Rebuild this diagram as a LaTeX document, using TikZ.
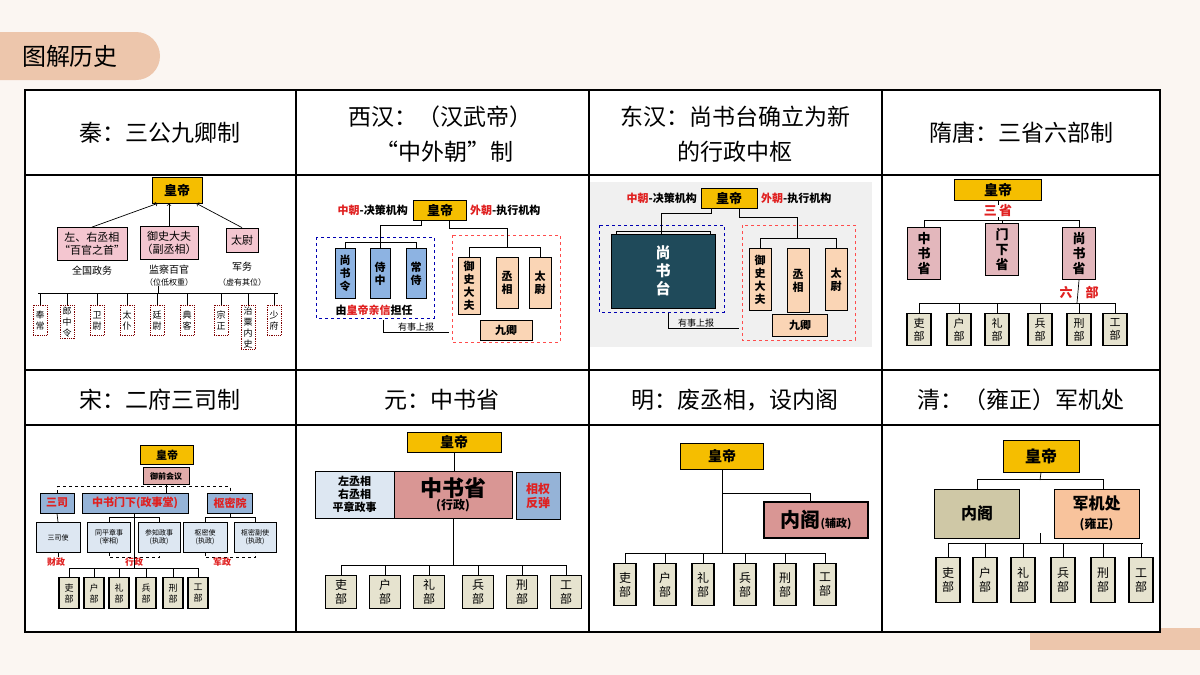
\documentclass[tikz,border=0pt]{standalone}
\usepackage{fontspec}
\setmainfont{Noto Sans CJK SC}
\usetikzlibrary{positioning}
\definecolor{bgpage}{HTML}{FBF6F2}
\definecolor{peach}{HTML}{EDC6AC}
\definecolor{empY}{HTML}{F5BE00}
\definecolor{qinPink}{HTML}{F4C6D0}
\definecolor{hanBlue}{HTML}{8DB3E2}
\definecolor{hanTan}{HTML}{FAD5B5}
\definecolor{deptG}{HTML}{E6E3CF}
\definecolor{tangPink}{HTML}{E3B7BC}
\definecolor{tealB}{HTML}{1F4A5A}
\definecolor{songBlue}{HTML}{95B3D7}
\definecolor{songLight}{HTML}{DDE7F2}
\definecolor{yuanPink}{HTML}{D99694}
\definecolor{qingOlive}{HTML}{CFC8A6}
\definecolor{qingTan}{HTML}{F8C39C}
\definecolor{redT}{HTML}{E02020}
\newcommand{\fs}[1]{\fontsize{#1}{\fpeval{round(1.18*#1)}}\selectfont}
\tikzset{
  box/.style={draw, inner sep=1pt, align=center, line width=0.8pt},
  emp/.style={box, fill=empY, font=\fs{13}\bfseries},
  dept/.style={box, fill=deptG, line width=1.3pt, font=\fs{11}, anchor=north},
  lbl/.style={inner sep=0pt, align=center},
  title/.style={lbl, font=\fs{23}},
  link/.style={line width=0.7pt},
}
\begin{document}
\begin{tikzpicture}[x=1pt, y=-1pt]
	\useasboundingbox (0,0) rectangle (1200,675);
	\fill[bgpage] (0,0) rectangle (1200,675);
	% header
	\fill[peach, rounded corners=24pt] (-40,32) rectangle (160,80);
	\node[lbl, font=\fs{24}] (head) at (70,56) {图解历史};
	\fill[peach] (1030,628) rectangle (1200,650);
	% table
	\fill[white] (25,90) rectangle (1160,632);
	\draw[line width=1.2pt] (25,90) rectangle (1160,632);
	\foreach \y in {175,370,425} \draw[line width=1.2pt] (25,\y) -- (1160,\y);
	\foreach \x in {296,589,882} \draw[line width=1.2pt] (\x,90) -- (\x,632);
	% titles
	\node[title] (t1) at (160,133) {秦：三公九卿制};
	\node[title] (t2) at (440,117) {西汉：（汉武帝）};
	\node[title] (t2b) at (444,152) {“中外朝”制};
	\node[title] (t3) at (735,117) {东汉：尚书台确立为新};
	\node[title] (t3b) at (735,152) {的行政中枢};
	\node[title] (t4) at (1021,133) {隋唐：三省六部制};
	\node[title] (t5) at (160,400) {宋：二府三司制};
	\node[title] (t6) at (442,400) {元：中书省};
	\node[title] (t7) at (735,400) {明：废丞相，设内阁};
	\node[title] (t8) at (1021,400) {清：（雍正）军机处};

	% ---- Qin
	\node[emp, minimum width=50, minimum height=26] (qEmp) at (177,190) {皇帝};
	\node[box, fill=qinPink, minimum width=70, minimum height=33, font=\fs{11}] (qZx) at (92,244) {左、右丞相\\“百官之首”};
	\node[box, fill=qinPink, minimum width=58, minimum height=33, font=\fs{11}] (qYs) at (169,243) {御史大夫\\（副丞相）};
	\node[box, fill=qinPink, minimum width=32, minimum height=24, font=\fs{11}] (qTw) at (242,240) {太尉};
	\draw[link, ->] (qZx.north) -- ([xshift=6]qEmp.south west);
	\draw[link, ->] (qYs.north) -- (qYs.north |- qEmp.south);
	\draw[link, ->] (qTw.north) -- ([xshift=-6]qEmp.south east);
	\node[lbl, font=\fs{10}] (qL1) at (92,271) {全国政务};
	\node[lbl, font=\fs{10}] (qL2) at (169,270) {监察百官};
	\node[lbl, font=\fs{8}] (qL2b) at (169,282) {（位低权重）};
	\node[lbl, font=\fs{10}] (qL3) at (242,267) {军务};
	\node[lbl, font=\fs{8}] (qL3b) at (242,282) {（虚有其位）};
	\draw[link] (38,293) -- (278,293);
	\draw[link] (qL2b.south -| 158,0) -- (158,293);
	\foreach \x/\t [count=\i] in {40/{奉\\常}, 67/{郎\\中\\令}, 97/{卫\\尉}, 127/{太\\仆}, 157/{廷\\尉}, 187/{典\\客}, 221/{宗\\正}, 248/{治\\粟\\内\\史}, 274/{少\\府}} {
		\node[box, draw=red!50!black, densely dotted, anchor=north, minimum width=14, minimum height=30, inner sep=1.5pt, font=\fs{9}] (qj\i) at (\x,305) {\t};
		\draw[link] (\x,293) -- (qj\i.north);
	}

	% ---- Western Han
	\node[emp, minimum width=53, minimum height=20] (wEmp) at (440,210) {皇帝};
	\node[lbl, anchor=east, font=\fs{11}\bfseries] (wZc) at (408,210) {\textcolor{redT}{中朝}-决策机构};
	\node[lbl, anchor=west, font=\fs{11}\bfseries] (wWc) at (470,210) {\textcolor{redT}{外朝}-执行机构};
	\draw[blue!70!black, dashed, line width=0.9pt] (316,237) rectangle (434,318);
	\draw[red!70, dashed, line width=0.9pt] (452,235) rectangle (560,342);
	\foreach \x/\t [count=\i] in {345/{尚\\书\\令}, 380/{侍\\中}, 416/{常\\侍}}
		\node[box, fill=hanBlue, anchor=north, minimum width=20, minimum height=50, font=\fs{11}\bfseries] (wn\i) at (\x,248) {\t};
	\draw[link] ([xshift=-19]wEmp.south) -- ++(0,5) -| (wn2.north);
	\draw[link] (wn1.north) -- ++(0,-6) -| (wn3.north);
	\node[lbl, font=\fs{11}\bfseries] (wQx) at (374,310) {由\textcolor{redT}{皇帝亲信}担任};
	\foreach \x/\t/\h [count=\i] in {469/{御\\史\\大\\夫}/57, 507/{丞\\相}/51, 540/{太\\尉}/51}
		\node[box, fill=hanTan, anchor=north, minimum width=22, minimum height=\h, font=\fs{11}\bfseries] (ww\i) at (\x,257) {\t};
	\draw[link] ([xshift=9]wEmp.south) -- ++(0,8) -| (ww2.north |- 0,247);
	\draw[link] (ww1.north) -- ++(0,-10) -| (ww3.north);
	\node[box, fill=hanTan, minimum width=52, minimum height=20, font=\fs{11}\bfseries] (wJq) at (506,330) {九卿};
	\coordinate (wBao) at (449,332);
	\draw[link] (383,320) |- (wBao);
	\node[lbl, font=\fs{9}, anchor=south] (wBaoT) at (416,331) {有事上报};

	% ---- Eastern Han
	\fill[gray!12] (590,182) rectangle (872,347);
	\node[emp, minimum width=56, minimum height=20] (eEmp) at (729,198) {皇帝};
	\node[lbl, anchor=east, font=\fs{11}\bfseries] (eZc) at (697,198) {\textcolor{redT}{中朝}-决策机构};
	\node[lbl, anchor=west, font=\fs{11}\bfseries] (eWc) at (761,198) {\textcolor{redT}{外朝}-执行机构};
	\draw[blue!70!black, dashed, line width=0.9pt] (599,225) rectangle (724,312);
	\draw[red!70, dashed, line width=0.9pt] (742,225) rectangle (855,340);
	\draw[link] (616,234) -- (616,231) -- (710,231) -- (710,234);
	\node[box, fill=tealB, draw=black, text=white, minimum width=104, minimum height=74, font=\fs{15}\bfseries] (eSst) at (663,271) {尚\\书\\台};
	\draw[link] ([xshift=-18]eEmp.south) -- ++(0,5) -| (eSst.north -| 661,0);
	\foreach \x/\t/\h [count=\i] in {760/{御\\史\\大\\夫}/62, 798/{丞\\相}/64, 836/{太\\尉}/62}
		\node[box, fill=hanTan, anchor=north, minimum width=22, minimum height=\h, font=\fs{11}\bfseries] (ew\i) at (\x,248) {\t};
	\draw[link] ([xshift=10]eEmp.south) -- ++(0,9) -| (797,238);
	\draw[link] (ew1.north) -- ++(0,-10) -| (ew3.north);
	\node[box, fill=hanTan, minimum width=55, minimum height=22, font=\fs{11}\bfseries] (eJq) at (800,325) {九卿};
	\coordinate (eBao) at (739,328);
	\draw[link] (668,313) |- (eBao);
	\node[lbl, font=\fs{9}, anchor=south] (eBaoT) at (696,327) {有事上报};

	% ---- Sui Tang
	\node[emp, minimum width=87, minimum height=21, font=\fs{14}\bfseries] (tEmp) at (998,190) {皇帝};
	\node[lbl, font=\fs{13}\bfseries, text=redT] (tSs) at (998,211) {三\,省};
	\draw[link] (tEmp.south) -- (tSs.north);
	\draw[link] (tSs.south) -- (998,220);
	\foreach \x/\y/\t [count=\i] in {924/227/{中\\书\\省}, 1002/223/{门\\下\\省}, 1079/227/{尚\\书\\省}}
		\node[box, fill=tangPink, anchor=north, minimum width=33, minimum height=52, line width=1.2pt, font=\fs{13}\bfseries] (ts\i) at (\x,\y) {\t};
	\draw[link] (ts1.north) -- ++(0,-7) -| (ts3.north);
	\draw[link] (ts2.north) -- ++(0,-3);
	\node[lbl, font=\fs{13}\bfseries, text=redT] (tLb) at (1079,292) {六\quad 部};
	\draw[link] (ts3.south) -- (1077,303);
	\draw[link] (919,303) -- (1115,303);
	\foreach \x [count=\i] in {919,959,997,1040,1079,1115} {
		\node[dept, minimum width=24, minimum height=32] (td\i) at (\x,313) {};
		\draw[link] (\x,303) -- (td\i.north);
	}
	\foreach \i/\t in {1/吏,2/户,3/礼,4/兵,5/刑,6/工} \node[lbl, font=\fs{11}] at (td\i) {\t\\部};

	% ---- Song
	\node[emp, minimum width=53, minimum height=19, font=\fs{11}\bfseries] (sEmp) at (167,455) {皇帝};
	\node[box, fill=yuanPink!80, minimum width=46, minimum height=17, font=\fs{8}\bfseries] (sYq) at (166,476) {御前会议};
	\node[box, fill=songBlue, minimum width=34, minimum height=20, font=\fs{11}\bfseries, text=redT] (sSs) at (57,503) {三司};
	\node[box, fill=songBlue, minimum width=106, minimum height=20, font=\fs{11}\bfseries, text=redT] (sZs) at (135,503) {中书门下(政事堂)};
	\node[box, fill=songBlue, minimum width=45, minimum height=20, font=\fs{11}\bfseries, text=redT] (sSm) at (230,503) {枢密院};
	\draw[link, dashed] (sSs.north) -- ++(0,-6) -| (sSm.north);
	\draw[link] (sYq.south) -- (sZs.north -| sYq.south);
	\foreach \x/\t/\w [count=\i] in {58/{三司使}/44, 109/{同平章事\\(宰相)}/43, 159/{参知政事\\(执政)}/42, 205/{枢密使\\(执政)}/44, 255/{枢密副使\\(执政)}/42}
		\node[box, fill=songLight, anchor=north, minimum width=\w, minimum height=30, font=\fs{7}] (sb\i) at (\x,522) {\t};
	\draw[link] (sSs.south) -- (sb1.north);
	\draw[link] (sb2.north) -- ++(0,-5) -| (sb3.north);
	\draw[link] (sb4.north) -- ++(0,-5) -| (sb5.north);
	\draw[link] (sSm.south) -- (230,517);
	\draw[link, dashed] (sb2.south) -- ++(0,5) -| (sb3.south);
	\draw[link, dashed] (sb4.south) -- ++(0,5) -| (sb5.south);
	\draw[link] (sb1.south) -- ++(0,4);
	\node[lbl, font=\fs{9}\bfseries, text=redT] (sCz) at (56,562) {财政};
	\node[lbl, font=\fs{9}\bfseries, text=redT] (sXz) at (134,562) {行政};
	\node[lbl, font=\fs{9}\bfseries, text=redT] (sJz) at (222,562) {军政};
	\draw[link] (134,513) -- (134,568);
	\draw[link] (69,568) -- (198,568);
	\foreach \x [count=\i] in {69,94,119,146,173,198} {
		\node[dept, minimum width=20, minimum height=31, font=\fs{9}] (sd\i) at (\x,577) {};
		\draw[link] (\x,568) -- (sd\i.north);
	}
	\foreach \i/\t in {1/吏,2/户,3/礼,4/兵,5/刑,6/工} \node[lbl, font=\fs{9}] at (sd\i) {\t\\部};

	% ---- Yuan
	\node[emp, minimum width=94, minimum height=20, font=\fs{14}\bfseries] (yEmp) at (454,442) {皇帝};
	\node[box, fill=songLight, minimum width=79, minimum height=47, font=\fs{11}\bfseries] (yZx) at (354.5,494.5) {左丞相\\右丞相\\平章政事};
	\node[box, fill=yuanPink, minimum width=118, minimum height=47, font=\fs{11}\bfseries] (yZs) at (453,494.5) {\fs{22}中书省\\\fs{12}(行政)};
	\node[box, fill=songBlue, minimum width=44, minimum height=47, font=\fs{12}\bfseries, text=redT] (yXq) at (538,496) {相权\\反弹};
	\draw[link] (yEmp.south) -- (yZs.north -| yEmp.south);
	\draw[link] (yZs.south) -- (453,565);
	\draw[link] (341,565) -- (566,565);
	\foreach \x [count=\i] in {341,385,429,478,522,566} {
		\node[dept, minimum width=31, minimum height=33, font=\fs{12}] (yd\i) at (\x,575) {};
		\draw[link] (\x,565) -- (yd\i.north);
	}
	\foreach \i/\t in {1/吏,2/户,3/礼,4/兵,5/刑,6/工} \node[lbl, font=\fs{12}] at (yd\i) {\t\\部};

	% ---- Ming
	\node[emp, minimum width=83, minimum height=26, font=\fs{14}\bfseries] (mEmp) at (722,456) {皇帝};
	\node[box, fill=yuanPink, minimum width=104, minimum height=36, line width=1.3pt] (mNg) at (816,520) {\fs{20}\bfseries 内阁\fs{11}\bfseries(辅政)};
	\draw[link] (mEmp.south) -- (722,553);
	\draw[link] (722,493) -| (mNg.north -| 810,0);
	\draw[link] (625,553) -- (825,553);
	\foreach \x [count=\i] in {625,665,703,745,785,825} {
		\node[dept, minimum width=22, minimum height=42, font=\fs{12}] (md\i) at (\x,563) {};
		\draw[link] (\x,553) -- (md\i.north);
	}
	\foreach \i/\t in {1/吏,2/户,3/礼,4/兵,5/刑,6/工} \node[lbl, font=\fs{12}] at (md\i) {\t\\部};

	% ---- Qing
	\node[emp, minimum width=76, minimum height=32, font=\fs{16}\bfseries] (cEmp) at (1041,456) {皇帝};
	\node[box, fill=qingOlive, minimum width=85, minimum height=49, font=\fs{16}\bfseries] (cNg) at (977,513.5) {内阁};
	\node[box, fill=qingTan, minimum width=85, minimum height=49, font=\fs{16}\bfseries] (cJj) at (1096.5,513.5) {军机处\\\fs{12}(雍正)};
	\draw[link] (cEmp.south) -- (1040,480);
	\draw[link] (cNg.north) -- ++(0,-9) -| (cJj.north -| 1103,0);
	\draw[link] (1040,533) -- (1040,543);
	\draw[link] (948,543) -- (1143,543);
	\foreach \x [count=\i] in {948,985,1023,1063,1103,1141} {
		\node[dept, minimum width=24, minimum height=45, font=\fs{12}] (cd\i) at (\x,557) {};
		\draw[link] (\x,543) -- (cd\i.north);
	}
	\foreach \i/\t in {1/吏,2/户,3/礼,4/兵,5/刑,6/工} \node[lbl, font=\fs{12}] at (cd\i) {\t\\部};
\end{tikzpicture}
\end{document}
